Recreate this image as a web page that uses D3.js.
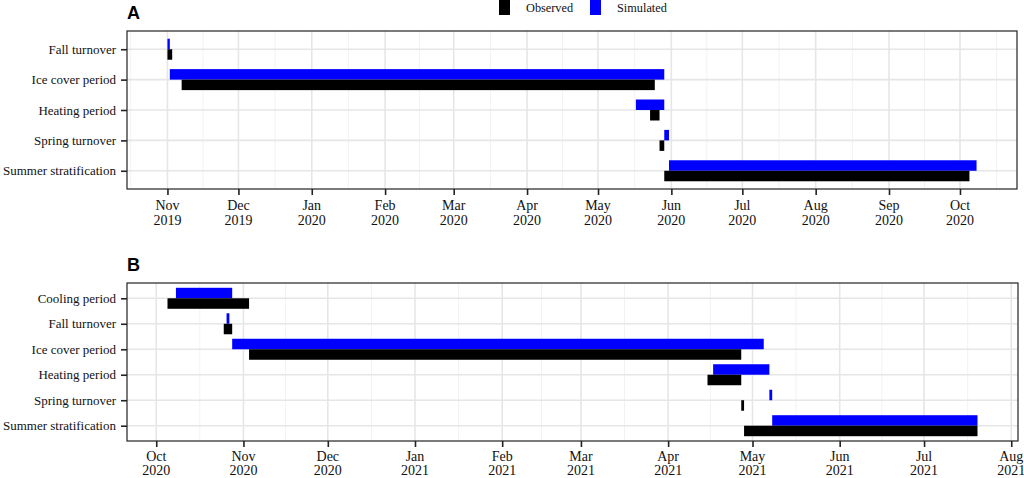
<!DOCTYPE html>
<html>
<head>
<meta charset="utf-8">
<script src="https://cdn.jsdelivr.net/npm/d3@7"></script>
<style>
  html, body { margin: 0; padding: 0; background: #fff; }
  svg { display: block; }
</style>
</head>
<body>
<svg id="chart" width="1024" height="478"></svg>
<script>
// ---------------- Data ----------------
const seriesNames = ["Observed", "Simulated"];
const seriesColors = ["#000000", "#0000FF"];

// Panel A (2019-2020)
const categoriesA = ["Fall turnover", "Ice cover period", "Heating period", "Spring turnover", "Summer stratification"];
const observedStartA = ["2019-11-01", "2019-11-07", "2020-05-23", "2020-05-27", "2020-05-29"];
const observedEndA   = ["2019-11-03", "2020-05-25", "2020-05-27", "2020-05-29", "2020-10-05"];
const simulatedStartA = ["2019-11-01", "2019-11-02", "2020-05-17", "2020-05-29", "2020-05-31"];
const simulatedEndA   = ["2019-11-02", "2020-05-29", "2020-05-29", "2020-05-31", "2020-10-08"];

// Panel B (2020-2021)
const categoriesB = ["Cooling period", "Fall turnover", "Ice cover period", "Heating period", "Spring turnover", "Summer stratification"];
const observedStartB = ["2020-10-05", "2020-10-25", "2020-11-03", "2021-04-15", "2021-04-27", "2021-04-28"];
const observedEndB   = ["2020-11-03", "2020-10-28", "2021-04-27", "2021-04-27", "2021-04-28", "2021-07-20"];
const simulatedStartB = ["2020-10-08", "2020-10-26", "2020-10-28", "2021-04-17", "2021-05-07", "2021-05-08"];
const simulatedEndB   = ["2020-10-28", "2020-10-27", "2021-05-05", "2021-05-07", "2021-05-08", "2021-07-20"];

const tickFormatTop = "%b";
const tickFormatBottom = "%Y";

// ---------------- Drawing ----------------
const svg = d3.select("#chart");
const parse = d3.utcParse("%Y-%m-%d");

function drawPanel(cfg) {
  const { label, cats, oS, oE, sS, sE, left, right, top, bottom, barH, line1, line2 } = cfg;
  const rows = cats.map((c, i) => ({
    cat: c,
    obs: [parse(oS[i]), parse(oE[i])],
    sim: [parse(sS[i]), parse(sE[i])]
  }));
  const all = rows.flatMap(r => [...r.obs, ...r.sim]);
  const ext = d3.extent(all);
  const span = ext[1] - ext[0];
  const x = d3.scaleUtc()
    .domain([new Date(+ext[0] - span * 0.05), new Date(+ext[1] + span * 0.05)])
    .range([left, right]);
  const y = d3.scalePoint().domain(cats).range([top, bottom]).padding(0.6);

  const g = svg.append("g");

  // panel background grid
  const majors = d3.utcMonth.range(d3.utcMonth.ceil(x.domain()[0]), x.domain()[1]);
  const extMaj = [d3.utcMonth.offset(majors[0], -1), ...majors, d3.utcMonth.offset(majors[majors.length - 1], 1)];
  const minors = [];
  for (let i = 0; i < extMaj.length - 1; i++) {
    const m = new Date((+extMaj[i] + +extMaj[i + 1]) / 2);
    if (m > x.domain()[0] && m < x.domain()[1]) minors.push(m);
  }
  g.append("g").selectAll("line").data(minors).join("line")
    .attr("x1", d => x(d)).attr("x2", d => x(d))
    .attr("y1", top).attr("y2", bottom)
    .attr("stroke", "#f2f2f2").attr("stroke-width", 1);
  g.append("g").selectAll("line").data(majors).join("line")
    .attr("x1", d => x(d)).attr("x2", d => x(d))
    .attr("y1", top).attr("y2", bottom)
    .attr("stroke", "#e6e6e6").attr("stroke-width", 1.6);
  g.append("g").selectAll("line").data(cats).join("line")
    .attr("x1", left).attr("x2", right)
    .attr("y1", d => y(d)).attr("y2", d => y(d))
    .attr("stroke", "#e6e6e6").attr("stroke-width", 1.6);

  // bars: simulated above, observed below the row line
  const bars = g.append("g");
  bars.selectAll("rect.sim").data(rows).join("rect")
    .attr("class", "sim")
    .attr("x", d => x(d.sim[0]))
    .attr("width", d => Math.max(1, x(d.sim[1]) - x(d.sim[0])))
    .attr("y", d => y(d.cat) - barH)
    .attr("height", barH)
    .attr("fill", seriesColors[1]);
  bars.selectAll("rect.obs").data(rows).join("rect")
    .attr("class", "obs")
    .attr("x", d => x(d.obs[0]))
    .attr("width", d => Math.max(1, x(d.obs[1]) - x(d.obs[0])))
    .attr("y", d => y(d.cat))
    .attr("height", barH)
    .attr("fill", seriesColors[0]);

  // border
  g.append("rect")
    .attr("x", left).attr("y", top)
    .attr("width", right - left).attr("height", bottom - top)
    .attr("fill", "none").attr("stroke", "#222").attr("stroke-width", 1.2);

  // x axis
  const xAxis = g.append("g").attr("transform", `translate(0,${bottom})`)
    .call(d3.axisBottom(x).tickValues(majors).tickSize(6).tickFormat(""));
  xAxis.select(".domain").remove();
  xAxis.selectAll(".tick line").attr("stroke", "#222").attr("stroke-width", 1.6);
  const fTop = d3.utcFormat(tickFormatTop), fBot = d3.utcFormat(tickFormatBottom);
  const xl = g.append("g").selectAll("text").data(majors).join("text")
    .attr("x", d => x(d))
    .attr("text-anchor", "middle")
    .attr("font-family", "'Liberation Serif', 'Times New Roman', serif")
    .attr("font-size", 14)
    .attr("fill", "#111");
  xl.append("tspan").attr("x", d => x(d)).attr("y", bottom + line1).text(d => fTop(d));
  xl.append("tspan").attr("x", d => x(d)).attr("y", bottom + line2).text(d => fBot(d));

  // y axis
  const yAxis = g.append("g").attr("transform", `translate(${left},0)`)
    .call(d3.axisLeft(y).tickSize(6).tickPadding(5));
  yAxis.select(".domain").remove();
  yAxis.selectAll(".tick line").attr("stroke", "#222").attr("stroke-width", 1.6);
  yAxis.selectAll(".tick text")
    .attr("font-family", "'Liberation Serif', 'Times New Roman', serif")
    .attr("font-size", 13)
    .attr("fill", "#111");

  // panel label
  g.append("text")
    .attr("x", left).attr("y", top - 12.5)
    .attr("font-family", "'Liberation Sans', Arial, sans-serif")
    .attr("font-weight", "bold")
    .attr("font-size", 18)
    .attr("fill", "#000")
    .text(label);
}

drawPanel({ label: "A", cats: categoriesA, oS: observedStartA, oE: observedEndA, sS: simulatedStartA, sE: simulatedEndA,
  left: 127, right: 1017, top: 31, bottom: 189, barH: 10.5, line1: 21, line2: 36 });
drawPanel({ label: "B", cats: categoriesB, oS: observedStartB, oE: observedEndB, sS: simulatedStartB, sE: simulatedEndB,
  left: 127, right: 1018, top: 283, bottom: 441, barH: 10.5, line1: 20, line2: 33.5 });

// legend
const legX = [499, 590];
const leg = svg.append("g");
seriesNames.forEach((n, i) => {
  leg.append("rect").attr("x", legX[i]).attr("y", -2).attr("width", 11).attr("height", 17).attr("fill", seriesColors[i]);
  leg.append("text").attr("x", legX[i] + 27).attr("y", 11.5)
    .attr("font-family", "'Liberation Serif', 'Times New Roman', serif")
    .attr("font-size", 12.3).attr("fill", "#111").text(n);
});
</script>
</body>
</html>
